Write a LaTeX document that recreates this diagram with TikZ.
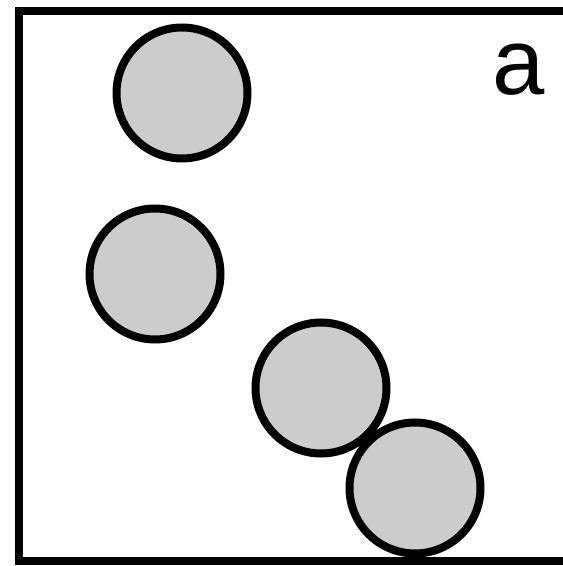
\documentclass[tikz,border=0pt]{standalone}
\usepackage{fontspec}
\setmainfont{Liberation Sans}
\definecolor{ballgray}{HTML}{CCCCCC}
\begin{document}
\begin{tikzpicture}[x=1pt,y=1pt,
  ball/.style={circle,draw=black,fill=ballgray,line width=8pt,minimum size=131pt,inner sep=0pt},
  frame/.style={draw=black,line width=8pt}]
\useasboundingbox (0,0) rectangle (563,566);
\clip (0,0) rectangle (563,566);
\draw[frame] (600,555) -- (19,555) -- (19,5) -- (600,5);
\node[ball] (b1) at (182,473) {};
\node[ball] (b2) at (155,292) {};
\node[ball] (b3) at (321,178) {};
\node[ball] (b4) at (415,78) {};
\node[anchor=base,inner sep=0pt,font=\fontsize{94}{94}\selectfont] (lab) at (519,471) {a};
\end{tikzpicture}
\end{document}
